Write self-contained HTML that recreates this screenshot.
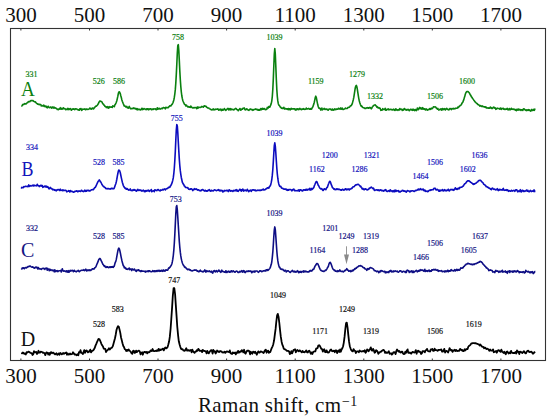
<!DOCTYPE html>
<html><head><meta charset="utf-8"><style>
html,body{margin:0;padding:0;background:#fff;}
body{width:550px;height:419px;overflow:hidden;}
svg{display:block;}
.ax{font-family:"Liberation Serif",serif;font-size:21px;fill:#111;}
.sm{font-family:"Liberation Serif",serif;font-size:8px;stroke-width:0.18px;}
.bg{font-family:"Liberation Serif",serif;font-size:20px;}
</style></head><body>
<svg width="550" height="419" viewBox="0 0 550 419">
<rect x="10.5" y="28.5" width="535" height="332" fill="none" stroke="#333333" stroke-width="1.1"/>
<line x1="20.9" y1="28.5" x2="20.9" y2="30.5" stroke="#333333" stroke-width="1"/>
<line x1="20.9" y1="360.5" x2="20.9" y2="358.5" stroke="#333333" stroke-width="1"/>
<line x1="89.5" y1="28.5" x2="89.5" y2="30.5" stroke="#333333" stroke-width="1"/>
<line x1="89.5" y1="360.5" x2="89.5" y2="358.5" stroke="#333333" stroke-width="1"/>
<line x1="158.0" y1="28.5" x2="158.0" y2="30.5" stroke="#333333" stroke-width="1"/>
<line x1="158.0" y1="360.5" x2="158.0" y2="358.5" stroke="#333333" stroke-width="1"/>
<line x1="226.6" y1="28.5" x2="226.6" y2="30.5" stroke="#333333" stroke-width="1"/>
<line x1="226.6" y1="360.5" x2="226.6" y2="358.5" stroke="#333333" stroke-width="1"/>
<line x1="295.2" y1="28.5" x2="295.2" y2="30.5" stroke="#333333" stroke-width="1"/>
<line x1="295.2" y1="360.5" x2="295.2" y2="358.5" stroke="#333333" stroke-width="1"/>
<line x1="363.8" y1="28.5" x2="363.8" y2="30.5" stroke="#333333" stroke-width="1"/>
<line x1="363.8" y1="360.5" x2="363.8" y2="358.5" stroke="#333333" stroke-width="1"/>
<line x1="432.3" y1="28.5" x2="432.3" y2="30.5" stroke="#333333" stroke-width="1"/>
<line x1="432.3" y1="360.5" x2="432.3" y2="358.5" stroke="#333333" stroke-width="1"/>
<line x1="500.9" y1="28.5" x2="500.9" y2="30.5" stroke="#333333" stroke-width="1"/>
<line x1="500.9" y1="360.5" x2="500.9" y2="358.5" stroke="#333333" stroke-width="1"/>
<text class="ax" x="20.9" y="22.4" text-anchor="middle">300</text>
<text class="ax" x="20.9" y="382.7" text-anchor="middle">300</text>
<text class="ax" x="89.5" y="22.4" text-anchor="middle">500</text>
<text class="ax" x="89.5" y="382.7" text-anchor="middle">500</text>
<text class="ax" x="158.0" y="22.4" text-anchor="middle">700</text>
<text class="ax" x="158.0" y="382.7" text-anchor="middle">700</text>
<text class="ax" x="226.6" y="22.4" text-anchor="middle">900</text>
<text class="ax" x="226.6" y="382.7" text-anchor="middle">900</text>
<text class="ax" x="295.2" y="22.4" text-anchor="middle">1100</text>
<text class="ax" x="295.2" y="382.7" text-anchor="middle">1100</text>
<text class="ax" x="363.8" y="22.4" text-anchor="middle">1300</text>
<text class="ax" x="363.8" y="382.7" text-anchor="middle">1300</text>
<text class="ax" x="432.3" y="22.4" text-anchor="middle">1500</text>
<text class="ax" x="432.3" y="382.7" text-anchor="middle">1500</text>
<text class="ax" x="500.9" y="22.4" text-anchor="middle">1700</text>
<text class="ax" x="500.9" y="382.7" text-anchor="middle">1700</text>
<text class="ax" x="198" y="412.2" letter-spacing="0.35">Raman shift, cm<tspan dx="0.5" dy="-6.2" font-size="14" letter-spacing="0.4">&#8722;1</tspan></text>
<polyline fill="none" stroke="#0a800f" stroke-width="1.60" stroke-linejoin="round" points="21.3,105.87 21.8,106.01 22.3,105.27 22.8,104.60 23.3,104.23 23.8,104.55 24.3,104.03 24.8,103.54 25.3,103.97 25.8,103.86 26.3,103.72 26.8,102.90 27.3,102.77 27.8,102.48 28.3,101.66 28.8,101.82 29.3,101.56 29.8,101.75 30.3,101.02 30.8,100.57 31.3,100.73 31.8,100.52 32.3,100.67 32.8,100.55 33.3,100.84 33.8,101.38 34.3,101.69 34.8,101.86 35.3,101.80 35.8,102.56 36.3,102.92 36.8,103.46 37.3,103.64 37.8,104.24 38.3,104.12 38.8,104.35 39.3,104.78 39.8,104.23 40.3,104.50 40.8,104.69 41.3,106.01 41.8,105.48 42.3,105.76 42.8,106.00 43.3,105.72 43.8,105.15 44.3,106.39 44.8,106.18 45.3,106.72 45.8,106.00 46.3,106.32 46.8,107.41 47.3,107.83 47.8,106.59 48.3,106.32 48.8,107.04 49.3,107.64 49.8,107.49 50.3,107.51 50.8,106.90 51.3,107.59 51.8,108.13 52.3,107.50 52.8,106.89 53.3,107.22 53.8,108.19 54.3,107.24 54.8,107.88 55.3,107.76 55.8,108.21 56.3,108.38 56.8,108.61 57.3,109.50 57.8,109.23 58.3,109.64 58.8,109.07 59.3,108.75 59.8,109.17 60.3,107.64 60.8,108.66 61.3,109.13 61.8,108.44 62.3,109.14 62.8,108.84 63.3,107.75 63.8,108.66 64.3,108.57 64.8,108.72 65.3,108.98 65.8,109.76 66.3,109.36 66.8,109.16 67.3,109.37 67.8,108.31 68.3,109.61 68.8,108.83 69.3,109.32 69.8,108.73 70.3,108.62 70.8,108.95 71.3,110.21 71.8,109.90 72.3,109.10 72.8,109.11 73.3,108.72 73.8,109.19 74.3,109.07 74.8,109.67 75.3,108.78 75.8,109.05 76.3,108.92 76.8,108.93 77.3,109.68 77.8,109.56 78.3,109.73 78.8,110.09 79.3,110.15 79.8,108.85 80.3,109.50 80.8,108.56 81.3,109.12 81.8,110.33 82.3,109.48 82.8,109.10 83.3,109.32 83.8,109.28 84.3,109.24 84.8,108.80 85.3,109.60 85.8,109.69 86.3,109.07 86.8,109.15 87.3,109.34 87.8,109.52 88.3,109.19 88.8,109.21 89.3,108.71 89.8,108.14 90.3,108.26 90.8,109.01 91.3,109.10 91.8,108.61 92.3,108.08 92.8,108.31 93.3,108.92 93.8,108.77 94.3,107.60 94.8,107.41 95.3,106.56 95.8,106.17 96.3,106.23 96.8,105.69 97.3,105.26 97.8,104.57 98.3,103.57 98.8,102.73 99.3,101.65 99.8,100.93 100.3,100.93 100.8,101.45 101.3,101.57 101.8,101.82 102.3,102.71 102.8,103.81 103.3,103.92 103.8,104.95 104.3,105.16 104.8,106.20 105.3,106.58 105.8,106.64 106.3,107.56 106.8,106.87 107.3,106.60 107.8,107.81 108.3,106.92 108.8,108.06 109.3,107.40 109.8,106.68 110.3,107.03 110.8,107.18 111.3,107.17 111.8,106.93 112.3,107.36 112.8,105.88 113.3,106.10 113.8,106.17 114.3,106.68 114.8,104.94 115.3,104.48 115.8,103.44 116.3,102.22 116.8,100.76 117.3,98.65 117.8,96.39 118.3,93.75 118.8,92.09 119.3,91.82 119.8,92.49 120.3,93.72 120.8,95.76 121.3,97.47 121.8,99.69 122.3,101.21 122.8,102.52 123.3,103.78 123.8,104.94 124.3,106.07 124.8,106.08 125.3,106.27 125.8,106.99 126.3,106.74 126.8,106.44 127.3,107.64 127.8,107.51 128.3,108.19 128.8,107.47 129.3,106.43 129.8,107.77 130.3,108.15 130.8,108.89 131.3,108.62 131.8,108.46 132.3,108.63 132.8,108.27 133.3,108.44 133.8,107.87 134.3,108.68 134.8,108.32 135.3,108.40 135.8,109.08 136.3,109.38 136.8,108.51 137.3,109.82 137.8,108.95 138.3,109.38 138.8,109.65 139.3,109.32 139.8,109.22 140.3,110.04 140.8,109.79 141.3,109.46 141.8,108.27 142.3,108.52 142.8,109.61 143.3,109.36 143.8,108.66 144.3,108.67 144.8,108.87 145.3,109.40 145.8,109.36 146.3,109.62 146.8,108.77 147.3,109.44 147.8,108.90 148.3,108.80 148.8,109.83 149.3,109.23 149.8,108.90 150.3,108.82 150.8,108.70 151.3,109.63 151.8,109.76 152.3,109.38 152.8,109.01 153.3,109.35 153.8,108.87 154.3,108.97 154.8,108.98 155.3,108.80 155.8,109.50 156.3,109.72 156.8,109.48 157.3,107.80 157.8,109.22 158.3,109.09 158.8,108.35 159.3,108.38 159.8,108.96 160.3,109.08 160.8,108.89 161.3,108.46 161.8,108.27 162.3,108.59 162.8,108.19 163.3,107.65 163.8,107.62 164.3,107.82 164.8,108.02 165.3,108.88 165.8,107.35 166.3,107.67 166.8,107.50 167.3,107.48 167.8,107.81 168.3,107.69 168.8,106.89 169.3,106.35 169.8,105.73 170.3,105.82 170.8,106.01 171.3,105.13 171.8,104.71 172.3,104.03 172.8,103.00 173.3,101.84 173.8,100.00 174.3,97.49 174.8,94.07 175.3,89.66 175.8,83.02 176.3,74.41 176.8,64.18 177.3,53.14 177.8,45.64 178.3,44.67 178.8,50.54 179.3,60.34 179.8,70.86 180.3,79.45 180.8,86.47 181.3,91.85 181.8,95.73 182.3,98.43 182.8,100.44 183.3,101.75 183.8,102.81 184.3,104.00 184.8,104.59 185.3,104.74 185.8,105.83 186.3,105.05 186.8,105.78 187.3,106.46 187.8,106.87 188.3,106.74 188.8,106.61 189.3,107.12 189.8,107.01 190.3,107.33 190.8,106.01 191.3,107.18 191.8,107.09 192.3,107.82 192.8,107.99 193.3,108.02 193.8,107.53 194.3,107.84 194.8,107.61 195.3,107.81 195.8,107.73 196.3,107.36 196.8,108.65 197.3,108.40 197.8,106.91 198.3,107.97 198.8,107.20 199.3,107.43 199.8,107.33 200.3,107.21 200.8,107.45 201.3,107.13 201.8,106.41 202.3,106.72 202.8,106.82 203.3,107.21 203.8,106.31 204.3,105.70 204.8,105.92 205.3,106.49 205.8,106.23 206.3,106.45 206.8,107.33 207.3,107.61 207.8,108.02 208.3,108.00 208.8,108.11 209.3,108.58 209.8,108.93 210.3,109.03 210.8,109.52 211.3,109.77 211.8,109.86 212.3,109.87 212.8,109.22 213.3,108.95 213.8,109.90 214.3,109.76 214.8,109.73 215.3,109.10 215.8,109.42 216.3,109.33 216.8,109.16 217.3,109.25 217.8,108.83 218.3,109.52 218.8,110.26 219.3,109.44 219.8,109.60 220.3,109.09 220.8,109.82 221.3,110.64 221.8,109.21 222.3,109.31 222.8,110.27 223.3,109.93 223.8,109.65 224.3,108.50 224.8,109.17 225.3,109.94 225.8,110.33 226.3,109.97 226.8,109.23 227.3,109.00 227.8,108.40 228.3,108.61 228.8,109.82 229.3,109.45 229.8,108.65 230.3,109.83 230.8,108.63 231.3,109.73 231.8,109.28 232.3,109.40 232.8,109.65 233.3,109.46 233.8,109.92 234.3,109.39 234.8,109.04 235.3,108.82 235.8,108.36 236.3,108.64 236.8,109.58 237.3,109.71 237.8,109.97 238.3,110.72 238.8,109.86 239.3,109.49 239.8,108.53 240.3,108.85 240.8,110.23 241.3,109.70 241.8,109.15 242.3,109.30 242.8,108.24 243.3,108.51 243.8,108.41 244.3,107.94 244.8,109.33 245.3,109.82 245.8,109.28 246.3,109.41 246.8,108.81 247.3,109.40 247.8,109.76 248.3,110.21 248.8,110.34 249.3,109.81 249.8,109.38 250.3,108.96 250.8,109.01 251.3,109.67 251.8,109.82 252.3,109.55 252.8,110.33 253.3,110.03 253.8,109.59 254.3,109.42 254.8,109.54 255.3,109.06 255.8,108.92 256.3,109.59 256.8,109.29 257.3,109.32 257.8,110.11 258.3,109.57 258.8,110.14 259.3,109.65 259.8,110.22 260.3,109.86 260.8,108.60 261.3,109.78 261.8,109.40 262.3,108.32 262.8,109.08 263.3,109.30 263.8,108.55 264.3,108.65 264.8,109.20 265.3,109.66 265.8,109.53 266.3,109.40 266.8,109.22 267.3,107.43 267.8,107.61 268.3,107.95 268.8,106.58 269.3,107.28 269.8,107.15 270.3,105.91 270.8,104.92 271.3,103.32 271.8,100.86 272.3,96.48 272.8,89.40 273.3,78.99 273.8,66.34 274.3,53.96 274.8,48.63 275.3,54.07 275.8,66.08 276.3,78.84 276.8,89.33 277.3,96.37 277.8,100.92 278.3,103.65 278.8,105.07 279.3,105.47 279.8,106.12 280.3,107.29 280.8,107.19 281.3,108.22 281.8,108.18 282.3,108.51 282.8,108.11 283.3,108.44 283.8,107.32 284.3,108.36 284.8,109.13 285.3,108.59 285.8,108.49 286.3,108.93 286.8,109.13 287.3,108.76 287.8,109.41 288.3,108.48 288.8,109.58 289.3,108.70 289.8,108.70 290.3,109.86 290.8,108.98 291.3,108.38 291.8,109.17 292.3,108.90 292.8,108.69 293.3,108.88 293.8,108.92 294.3,108.80 294.8,108.75 295.3,110.08 295.8,109.27 296.3,109.81 296.8,108.82 297.3,109.51 297.8,108.85 298.3,109.03 298.8,109.68 299.3,109.23 299.8,108.36 300.3,108.89 300.8,109.27 301.3,109.68 301.8,108.98 302.3,109.13 302.8,109.39 303.3,108.57 303.8,109.12 304.3,108.94 304.8,109.47 305.3,109.34 305.8,109.23 306.3,108.08 306.8,108.92 307.3,109.05 307.8,108.70 308.3,108.80 308.8,108.44 309.3,108.98 309.8,109.31 310.3,109.23 310.8,108.56 311.3,109.25 311.8,108.82 312.3,107.48 312.8,106.90 313.3,105.38 313.8,104.11 314.3,102.21 314.8,99.85 315.3,97.41 315.8,96.20 316.3,97.44 316.8,100.14 317.3,102.62 317.8,105.07 318.3,106.69 318.8,108.06 319.3,108.42 319.8,108.17 320.3,108.78 320.8,110.07 321.3,108.99 321.8,108.07 322.3,109.90 322.8,109.61 323.3,108.94 323.8,108.86 324.3,108.43 324.8,109.45 325.3,109.48 325.8,109.04 326.3,109.06 326.8,109.09 327.3,109.85 327.8,109.42 328.3,110.06 328.8,109.14 329.3,108.98 329.8,109.08 330.3,109.07 330.8,109.28 331.3,109.90 331.8,110.12 332.3,108.98 332.8,109.87 333.3,109.55 333.8,110.13 334.3,109.42 334.8,108.84 335.3,109.55 335.8,109.64 336.3,109.05 336.8,109.12 337.3,109.21 337.8,109.28 338.3,108.25 338.8,108.22 339.3,108.88 339.8,109.10 340.3,108.70 340.8,107.95 341.3,109.29 341.8,108.82 342.3,108.21 342.8,109.36 343.3,109.41 343.8,109.25 344.3,109.09 344.8,108.87 345.3,108.04 345.8,108.26 346.3,108.45 346.8,108.52 347.3,108.37 347.8,107.55 348.3,107.42 348.8,107.41 349.3,107.28 349.8,106.74 350.3,105.95 350.8,105.64 351.3,105.59 351.8,104.72 352.3,103.61 352.8,101.62 353.3,99.68 353.8,97.39 354.3,94.02 354.8,90.82 355.3,87.73 355.8,86.01 356.3,85.39 356.8,86.51 357.3,89.20 357.8,92.39 358.3,95.71 358.8,98.62 359.3,100.96 359.8,102.74 360.3,104.29 360.8,105.47 361.3,106.44 361.8,105.99 362.3,106.98 362.8,107.41 363.3,107.68 363.8,107.72 364.3,107.92 364.8,108.34 365.3,108.38 365.8,108.42 366.3,107.93 366.8,107.77 367.3,108.03 367.8,107.64 368.3,108.13 368.8,108.12 369.3,107.61 369.8,107.38 370.3,107.93 370.8,107.89 371.3,108.85 371.8,108.25 372.3,107.03 372.8,106.51 373.3,105.84 373.8,105.36 374.3,105.09 374.8,104.98 375.3,104.89 375.8,105.59 376.3,106.16 376.8,107.22 377.3,106.71 377.8,107.70 378.3,107.88 378.8,107.55 379.3,108.26 379.8,107.97 380.3,108.72 380.8,110.36 381.3,110.08 381.8,110.23 382.3,110.04 382.8,108.64 383.3,109.31 383.8,109.45 384.3,109.59 384.8,108.91 385.3,108.27 385.8,110.23 386.3,110.30 386.8,109.75 387.3,109.25 387.8,109.51 388.3,108.88 388.8,109.83 389.3,109.72 389.8,109.47 390.3,109.30 390.8,109.46 391.3,109.62 391.8,109.38 392.3,110.02 392.8,109.81 393.3,109.57 393.8,109.15 394.3,110.12 394.8,110.44 395.3,110.14 395.8,108.78 396.3,109.23 396.8,110.11 397.3,109.80 397.8,110.32 398.3,109.61 398.8,110.02 399.3,110.05 399.8,108.50 400.3,109.17 400.8,109.52 401.3,109.35 401.8,109.17 402.3,110.41 402.8,109.85 403.3,110.10 403.8,109.13 404.3,108.48 404.8,109.21 405.3,109.87 405.8,109.41 406.3,109.90 406.8,110.20 407.3,109.60 407.8,109.64 408.3,109.34 408.8,110.18 409.3,110.76 409.8,110.19 410.3,109.51 410.8,109.28 411.3,109.46 411.8,110.10 412.3,109.41 412.8,110.32 413.3,109.22 413.8,109.47 414.3,110.26 414.8,110.62 415.3,109.53 415.8,109.77 416.3,110.67 416.8,110.08 417.3,108.14 417.8,108.73 418.3,109.78 418.8,108.22 419.3,108.57 419.8,107.41 420.3,108.68 420.8,108.11 421.3,108.74 421.8,109.16 422.3,107.65 422.8,108.00 423.3,109.13 423.8,108.55 424.3,109.14 424.8,108.92 425.3,109.98 425.8,109.36 426.3,108.93 426.8,109.66 427.3,110.14 427.8,109.51 428.3,109.53 428.8,109.66 429.3,109.15 429.8,108.63 430.3,109.30 430.8,108.94 431.3,108.17 431.8,108.81 432.3,108.51 432.8,107.89 433.3,107.04 433.8,106.76 434.3,106.91 434.8,107.02 435.3,106.85 435.8,107.12 436.3,108.06 436.8,108.50 437.3,109.09 437.8,108.44 438.3,109.34 438.8,110.10 439.3,109.87 439.8,109.41 440.3,109.71 440.8,108.75 441.3,108.90 441.8,110.24 442.3,108.74 442.8,108.52 443.3,109.55 443.8,109.07 444.3,108.93 444.8,108.66 445.3,109.96 445.8,109.17 446.3,109.04 446.8,108.32 447.3,109.38 447.8,109.30 448.3,109.43 448.8,109.98 449.3,109.40 449.8,108.56 450.3,108.45 450.8,108.95 451.3,109.62 451.8,108.54 452.3,108.63 452.8,108.72 453.3,109.03 453.8,108.34 454.3,108.61 454.8,108.85 455.3,108.42 455.8,108.17 456.3,108.32 456.8,108.20 457.3,108.27 457.8,107.20 458.3,107.60 458.8,106.99 459.3,106.21 459.8,105.96 460.3,105.37 460.8,105.11 461.3,104.88 461.8,103.52 462.3,102.76 462.8,102.13 463.3,100.87 463.8,99.65 464.3,97.85 464.8,96.32 465.3,94.30 465.8,92.94 466.3,92.07 466.8,91.58 467.3,91.63 467.8,91.59 468.3,91.77 468.8,92.34 469.3,92.77 469.8,93.97 470.3,94.88 470.8,95.40 471.3,96.60 471.8,97.06 472.3,98.06 472.8,98.70 473.3,99.25 473.8,100.25 474.3,100.74 474.8,101.66 475.3,101.98 475.8,102.57 476.3,102.99 476.8,103.51 477.3,103.78 477.8,104.43 478.3,104.81 478.8,104.98 479.3,105.17 479.8,106.04 480.3,105.64 480.8,105.74 481.3,106.36 481.8,106.38 482.3,105.92 482.8,106.47 483.3,106.66 483.8,106.54 484.3,107.06 484.8,106.77 485.3,107.10 485.8,106.93 486.3,108.03 486.8,107.64 487.3,107.84 487.8,107.93 488.3,108.17 488.8,107.92 489.3,108.28 489.8,108.17 490.3,107.03 490.8,108.02 491.3,107.66 491.8,108.53 492.3,108.50 492.8,108.19 493.3,107.19 493.8,107.15 494.3,107.67 494.8,108.18 495.3,107.84 495.8,109.32 496.3,109.03 496.8,108.63 497.3,108.17 497.8,108.40 498.3,108.55 498.8,108.49 499.3,108.66 499.8,109.15 500.3,108.05 500.8,108.72 501.3,109.40 501.8,108.34 502.3,108.63 502.8,108.71 503.3,108.34 503.8,109.28 504.3,108.94 504.8,109.52 505.3,109.37 505.8,108.96 506.3,109.18 506.8,108.95 507.3,108.27 507.8,109.64 508.3,109.52 508.8,109.80 509.3,108.46 509.8,109.52 510.3,109.79 510.8,109.36 511.3,108.24 511.8,109.11 512.3,109.02 512.8,109.19 513.3,109.39 513.8,108.97 514.3,109.26 514.8,109.45 515.3,110.21 515.8,109.63 516.3,110.69 516.8,109.25 517.3,109.35 517.8,110.19 518.3,108.97 518.8,109.74 519.3,109.93 519.8,109.42 520.3,109.49 520.8,110.46 521.3,109.70 521.8,109.83 522.3,110.02 522.8,110.45 523.3,108.92 523.8,108.82 524.3,108.98 524.8,109.55 525.3,110.15 525.8,110.39 526.3,109.87 526.8,110.66 527.3,110.09 527.8,110.30 528.3,109.67 528.8,110.31 529.3,109.74 529.8,110.50 530.3,110.60 530.8,111.09 531.3,110.06 531.8,109.40 532.3,110.33 532.8,110.33 533.3,109.85 533.8,109.33 534.3,110.32 534.8,109.20 535.3,109.61"/>
<polyline fill="none" stroke="#0c0cbf" stroke-width="1.60" stroke-linejoin="round" points="21.3,188.63 21.8,187.40 22.3,187.50 22.8,187.45 23.3,187.70 23.8,186.64 24.3,186.78 24.8,186.67 25.3,186.40 25.8,186.39 26.3,186.49 26.8,186.54 27.3,186.20 27.8,186.63 28.3,186.25 28.8,184.88 29.3,186.41 29.8,186.11 30.3,185.69 30.8,186.00 31.3,186.00 31.8,185.85 32.3,185.39 32.8,185.67 33.3,185.02 33.8,186.04 34.3,185.22 34.8,185.38 35.3,185.59 35.8,185.72 36.3,185.59 36.8,185.89 37.3,184.28 37.8,185.35 38.3,185.75 38.8,185.69 39.3,186.60 39.8,185.78 40.3,185.97 40.8,185.26 41.3,186.16 41.8,185.61 42.3,185.48 42.8,187.40 43.3,187.14 43.8,186.67 44.3,186.73 44.8,186.05 45.3,186.14 45.8,187.03 46.3,186.09 46.8,187.10 47.3,186.55 47.8,187.40 48.3,187.18 48.8,188.65 49.3,188.83 49.8,188.14 50.3,187.43 50.8,188.01 51.3,188.70 51.8,188.49 52.3,189.20 52.8,189.89 53.3,189.59 53.8,189.40 54.3,190.11 54.8,189.82 55.3,190.36 55.8,189.98 56.3,190.88 56.8,190.18 57.3,189.54 57.8,190.04 58.3,189.83 58.8,189.59 59.3,189.99 59.8,190.57 60.3,189.19 60.8,189.94 61.3,190.19 61.8,190.21 62.3,190.73 62.8,189.79 63.3,190.57 63.8,190.40 64.3,190.50 64.8,190.41 65.3,190.34 65.8,190.26 66.3,190.76 66.8,191.80 67.3,191.51 67.8,191.30 68.3,191.16 68.8,190.61 69.3,191.07 69.8,192.00 70.3,190.47 70.8,191.15 71.3,191.54 71.8,191.20 72.3,191.39 72.8,191.77 73.3,192.28 73.8,191.92 74.3,191.99 74.8,191.35 75.3,191.43 75.8,191.16 76.3,191.13 76.8,190.76 77.3,191.25 77.8,191.79 78.3,191.06 78.8,191.07 79.3,191.31 79.8,191.04 80.3,191.44 80.8,191.20 81.3,190.38 81.8,190.27 82.3,191.18 82.8,191.35 83.3,191.57 83.8,191.18 84.3,191.04 84.8,190.12 85.3,191.38 85.8,190.57 86.3,191.25 86.8,190.38 87.3,190.32 87.8,190.76 88.3,190.53 88.8,190.29 89.3,190.99 89.8,191.01 90.3,190.77 90.8,190.29 91.3,189.86 91.8,189.82 92.3,189.66 92.8,189.64 93.3,189.74 93.8,189.03 94.3,188.20 94.8,187.62 95.3,187.53 95.8,186.43 96.3,185.34 96.8,184.22 97.3,183.11 97.8,181.94 98.3,181.17 98.8,180.59 99.3,179.90 99.8,180.48 100.3,181.70 100.8,182.00 101.3,182.99 101.8,184.18 102.3,184.92 102.8,186.05 103.3,186.07 103.8,186.43 104.3,187.27 104.8,187.52 105.3,187.60 105.8,188.48 106.3,188.69 106.8,188.66 107.3,188.53 107.8,188.84 108.3,188.78 108.8,188.47 109.3,188.97 109.8,189.04 110.3,188.87 110.8,189.08 111.3,188.27 111.8,188.42 112.3,188.25 112.8,188.86 113.3,188.46 113.8,188.65 114.3,188.01 114.8,186.45 115.3,184.97 115.8,183.77 116.3,181.72 116.8,179.25 117.3,176.35 117.8,173.76 118.3,171.39 118.8,170.09 119.3,170.17 119.8,171.11 120.3,172.74 120.8,175.27 121.3,177.66 121.8,179.92 122.3,182.17 122.8,183.78 123.3,185.54 123.8,186.41 124.3,187.36 124.8,187.99 125.3,188.58 125.8,188.09 126.3,189.15 126.8,189.17 127.3,188.72 127.8,189.45 128.3,189.61 128.8,190.10 129.3,190.03 129.8,189.85 130.3,188.90 130.8,190.31 131.3,190.67 131.8,190.36 132.3,190.18 132.8,190.57 133.3,189.70 133.8,190.28 134.3,190.19 134.8,189.66 135.3,190.28 135.8,190.50 136.3,191.23 136.8,191.08 137.3,189.77 137.8,189.33 138.3,190.27 138.8,190.49 139.3,190.16 139.8,189.85 140.3,190.45 140.8,190.16 141.3,190.30 141.8,191.16 142.3,191.06 142.8,190.49 143.3,190.18 143.8,190.60 144.3,191.68 144.8,190.79 145.3,191.63 145.8,190.64 146.3,190.60 146.8,191.12 147.3,190.48 147.8,190.70 148.3,190.08 148.8,190.90 149.3,191.38 149.8,190.52 150.3,190.69 150.8,190.48 151.3,189.51 151.8,191.71 152.3,191.24 152.8,191.05 153.3,190.83 153.8,190.64 154.3,191.67 154.8,189.84 155.3,190.04 155.8,190.14 156.3,190.20 156.8,190.63 157.3,190.01 157.8,189.51 158.3,189.49 158.8,190.24 159.3,190.63 159.8,190.57 160.3,190.88 160.8,189.91 161.3,190.32 161.8,190.29 162.3,189.79 162.8,189.35 163.3,189.96 163.8,189.35 164.3,189.26 164.8,188.90 165.3,189.91 165.8,189.29 166.3,188.75 166.8,188.64 167.3,188.48 167.8,188.38 168.3,187.46 168.8,187.19 169.3,187.47 169.8,187.34 170.3,186.18 170.8,185.67 171.3,184.74 171.8,183.37 172.3,182.17 172.8,180.14 173.3,177.66 173.8,173.70 174.3,168.29 174.8,160.75 175.3,151.50 175.8,140.16 176.3,129.95 176.8,124.60 177.3,125.93 177.8,132.79 178.3,141.98 178.8,150.89 179.3,159.09 179.8,165.59 180.3,170.65 180.8,174.38 181.3,177.49 181.8,179.74 182.3,182.06 182.8,183.22 183.3,184.11 183.8,184.65 184.3,186.01 184.8,185.98 185.3,187.06 185.8,187.56 186.3,187.54 186.8,187.48 187.3,187.89 187.8,187.67 188.3,188.52 188.8,189.32 189.3,189.26 189.8,189.39 190.3,188.78 190.8,189.14 191.3,188.75 191.8,188.95 192.3,189.62 192.8,190.64 193.3,189.80 193.8,189.56 194.3,188.71 194.8,189.51 195.3,189.28 195.8,188.96 196.3,188.90 196.8,189.70 197.3,189.67 197.8,190.16 198.3,189.87 198.8,189.90 199.3,190.68 199.8,190.56 200.3,190.49 200.8,190.88 201.3,190.41 201.8,189.73 202.3,189.75 202.8,189.47 203.3,190.40 203.8,190.32 204.3,190.74 204.8,191.05 205.3,190.28 205.8,190.58 206.3,191.26 206.8,190.82 207.3,191.10 207.8,190.65 208.3,190.14 208.8,190.41 209.3,189.67 209.8,190.78 210.3,190.49 210.8,191.28 211.3,190.22 211.8,190.58 212.3,190.86 212.8,190.62 213.3,190.85 213.8,190.34 214.3,190.04 214.8,189.83 215.3,190.21 215.8,190.19 216.3,190.70 216.8,190.52 217.3,190.29 217.8,190.22 218.3,189.61 218.8,190.24 219.3,190.84 219.8,190.04 220.3,190.36 220.8,190.98 221.3,190.39 221.8,190.67 222.3,190.46 222.8,191.86 223.3,191.68 223.8,191.44 224.3,190.45 224.8,190.89 225.3,190.64 225.8,190.80 226.3,190.39 226.8,190.64 227.3,190.26 227.8,190.68 228.3,191.57 228.8,190.14 229.3,189.77 229.8,190.71 230.3,191.10 230.8,190.53 231.3,190.88 231.8,190.92 232.3,190.96 232.8,191.40 233.3,190.46 233.8,190.88 234.3,190.81 234.8,190.28 235.3,190.78 235.8,190.00 236.3,189.67 236.8,190.97 237.3,190.16 237.8,191.32 238.3,191.34 238.8,190.44 239.3,190.04 239.8,189.29 240.3,190.23 240.8,189.69 241.3,191.14 241.8,189.86 242.3,190.33 242.8,189.10 243.3,189.96 243.8,191.13 244.3,190.42 244.8,189.99 245.3,190.11 245.8,190.58 246.3,190.95 246.8,190.42 247.3,189.33 247.8,190.30 248.3,190.94 248.8,191.70 249.3,190.76 249.8,190.48 250.3,190.10 250.8,190.66 251.3,191.34 251.8,190.03 252.3,190.22 252.8,189.77 253.3,189.80 253.8,190.09 254.3,190.50 254.8,189.89 255.3,189.98 255.8,190.88 256.3,190.64 256.8,190.61 257.3,190.46 257.8,190.10 258.3,190.31 258.8,190.41 259.3,190.12 259.8,190.54 260.3,190.12 260.8,190.40 261.3,190.03 261.8,190.22 262.3,189.56 262.8,189.38 263.3,189.04 263.8,190.03 264.3,189.89 264.8,189.56 265.3,189.60 265.8,188.84 266.3,188.95 266.8,188.60 267.3,187.74 267.8,188.03 268.3,187.65 268.8,188.10 269.3,187.02 269.8,186.23 270.3,185.83 270.8,184.38 271.3,182.17 271.8,179.49 272.3,175.19 272.8,169.72 273.3,161.91 273.8,153.39 274.3,145.65 274.8,142.78 275.3,146.07 275.8,152.70 276.3,160.50 276.8,167.98 277.3,173.82 277.8,178.22 278.3,181.74 278.8,183.91 279.3,185.39 279.8,186.51 280.3,186.44 280.8,186.36 281.3,187.68 281.8,188.14 282.3,188.23 282.8,188.35 283.3,188.89 283.8,189.08 284.3,189.06 284.8,189.25 285.3,189.05 285.8,188.97 286.3,189.88 286.8,189.36 287.3,190.32 287.8,189.99 288.3,189.58 288.8,190.08 289.3,189.45 289.8,189.43 290.3,189.43 290.8,189.63 291.3,190.07 291.8,190.93 292.3,190.40 292.8,189.47 293.3,189.47 293.8,189.08 294.3,190.33 294.8,190.80 295.3,190.60 295.8,190.60 296.3,190.73 296.8,190.72 297.3,190.83 297.8,190.64 298.3,189.96 298.8,190.79 299.3,191.22 299.8,189.72 300.3,190.04 300.8,189.73 301.3,190.43 301.8,190.20 302.3,190.95 302.8,190.97 303.3,190.08 303.8,189.83 304.3,189.73 304.8,190.27 305.3,189.61 305.8,190.07 306.3,189.27 306.8,190.24 307.3,190.21 307.8,189.26 308.3,189.20 308.8,189.67 309.3,189.81 309.8,188.20 310.3,189.27 310.8,190.21 311.3,189.29 311.8,188.46 312.3,189.32 312.8,188.80 313.3,188.12 313.8,187.52 314.3,185.93 314.8,184.77 315.3,183.43 315.8,182.20 316.3,181.58 316.8,181.57 317.3,182.84 317.8,184.07 318.3,185.49 318.8,185.91 319.3,187.11 319.8,187.93 320.3,188.54 320.8,189.02 321.3,188.67 321.8,188.58 322.3,189.54 322.8,190.43 323.3,190.52 323.8,189.34 324.3,188.77 324.8,189.11 325.3,189.24 325.8,189.66 326.3,188.57 326.8,187.61 327.3,187.50 327.8,185.97 328.3,184.47 328.8,183.27 329.3,181.93 329.8,181.22 330.3,181.85 330.8,183.16 331.3,184.68 331.8,185.87 332.3,187.37 332.8,187.89 333.3,188.20 333.8,189.27 334.3,188.74 334.8,189.46 335.3,189.68 335.8,189.29 336.3,189.49 336.8,188.74 337.3,189.43 337.8,189.03 338.3,188.97 338.8,189.58 339.3,189.22 339.8,189.54 340.3,189.80 340.8,190.16 341.3,189.91 341.8,190.15 342.3,189.32 342.8,189.28 343.3,189.83 343.8,190.22 344.3,189.90 344.8,189.30 345.3,188.89 345.8,188.86 346.3,189.88 346.8,189.06 347.3,189.13 347.8,189.60 348.3,189.55 348.8,188.89 349.3,189.95 349.8,189.28 350.3,188.96 350.8,189.03 351.3,188.37 351.8,188.43 352.3,187.88 352.8,187.17 353.3,186.71 353.8,186.78 354.3,186.35 354.8,185.80 355.3,185.26 355.8,184.90 356.3,184.84 356.8,184.75 357.3,184.40 357.8,184.53 358.3,184.31 358.8,184.68 359.3,185.24 359.8,185.66 360.3,186.61 360.8,186.26 361.3,187.36 361.8,188.07 362.3,189.07 362.8,188.45 363.3,188.85 363.8,189.63 364.3,189.69 364.8,188.92 365.3,189.08 365.8,188.83 366.3,189.32 366.8,189.71 367.3,190.00 367.8,189.55 368.3,189.38 368.8,189.19 369.3,188.10 369.8,188.14 370.3,188.07 370.8,187.46 371.3,187.06 371.8,187.55 372.3,187.98 372.8,188.60 373.3,188.06 373.8,188.77 374.3,190.32 374.8,190.55 375.3,190.02 375.8,189.95 376.3,190.07 376.8,189.81 377.3,190.05 377.8,190.38 378.3,189.89 378.8,190.34 379.3,190.69 379.8,189.97 380.3,190.21 380.8,189.78 381.3,190.46 381.8,190.77 382.3,190.43 382.8,190.65 383.3,190.98 383.8,191.12 384.3,190.12 384.8,190.39 385.3,189.96 385.8,189.60 386.3,191.05 386.8,191.30 387.3,191.54 387.8,191.37 388.3,190.66 388.8,190.88 389.3,190.60 389.8,191.49 390.3,189.84 390.8,190.79 391.3,190.67 391.8,191.21 392.3,191.64 392.8,190.77 393.3,191.57 393.8,191.70 394.3,190.30 394.8,191.72 395.3,190.62 395.8,190.15 396.3,191.33 396.8,190.77 397.3,191.05 397.8,191.04 398.3,190.51 398.8,191.74 399.3,192.03 399.8,191.29 400.3,191.89 400.8,191.27 401.3,191.20 401.8,190.94 402.3,190.35 402.8,190.72 403.3,190.53 403.8,191.15 404.3,191.19 404.8,190.78 405.3,191.64 405.8,191.41 406.3,192.04 406.8,191.08 407.3,190.80 407.8,190.61 408.3,191.06 408.8,190.98 409.3,191.03 409.8,191.93 410.3,191.65 410.8,190.79 411.3,191.13 411.8,190.91 412.3,190.78 412.8,190.81 413.3,190.95 413.8,191.25 414.3,191.48 414.8,190.99 415.3,190.39 415.8,190.61 416.3,190.52 416.8,190.32 417.3,189.69 417.8,189.88 418.3,189.00 418.8,189.92 419.3,189.76 419.8,189.49 420.3,188.70 420.8,189.04 421.3,189.76 421.8,189.48 422.3,189.20 422.8,189.78 423.3,189.09 423.8,190.53 424.3,190.81 424.8,189.97 425.3,190.84 425.8,191.36 426.3,191.20 426.8,191.16 427.3,191.60 427.8,191.04 428.3,191.44 428.8,190.75 429.3,190.25 429.8,190.28 430.3,189.86 430.8,190.30 431.3,189.75 431.8,189.84 432.3,189.62 432.8,189.82 433.3,189.65 433.8,188.49 434.3,188.29 434.8,188.38 435.3,188.41 435.8,189.64 436.3,190.01 436.8,189.67 437.3,189.26 437.8,189.69 438.3,190.27 438.8,191.24 439.3,190.14 439.8,191.21 440.3,190.17 440.8,190.74 441.3,190.23 441.8,190.43 442.3,189.55 442.8,190.81 443.3,190.90 443.8,190.30 444.3,189.62 444.8,190.51 445.3,190.79 445.8,190.07 446.3,190.83 446.8,190.73 447.3,190.11 447.8,190.09 448.3,189.25 448.8,190.56 449.3,191.01 449.8,190.38 450.3,189.63 450.8,189.48 451.3,189.81 451.8,189.54 452.3,189.95 452.8,189.43 453.3,190.06 453.8,190.32 454.3,189.39 454.8,188.98 455.3,187.83 455.8,188.92 456.3,189.34 456.8,188.67 457.3,189.38 457.8,188.68 458.3,188.14 458.8,188.85 459.3,188.76 459.8,187.43 460.3,187.54 460.8,187.20 461.3,187.28 461.8,187.19 462.3,186.60 462.8,186.31 463.3,186.08 463.8,185.22 464.3,184.32 464.8,183.74 465.3,183.48 465.8,183.05 466.3,182.19 466.8,181.66 467.3,181.07 467.8,180.78 468.3,180.92 468.8,180.80 469.3,181.06 469.8,181.41 470.3,181.97 470.8,182.32 471.3,182.68 471.8,183.03 472.3,183.33 472.8,183.89 473.3,184.40 473.8,183.77 474.3,184.12 474.8,183.72 475.3,183.49 475.8,183.28 476.3,182.90 476.8,182.47 477.3,181.96 477.8,181.84 478.3,180.97 478.8,180.59 479.3,180.35 479.8,180.39 480.3,180.26 480.8,180.63 481.3,181.07 481.8,181.83 482.3,182.26 482.8,182.70 483.3,183.32 483.8,184.31 484.3,184.58 484.8,184.88 485.3,185.37 485.8,185.91 486.3,186.79 486.8,186.61 487.3,186.92 487.8,187.47 488.3,187.40 488.8,188.19 489.3,188.10 489.8,188.54 490.3,188.78 490.8,189.35 491.3,189.69 491.8,188.60 492.3,188.15 492.8,188.23 493.3,189.08 493.8,189.35 494.3,189.15 494.8,189.11 495.3,189.90 495.8,189.82 496.3,189.46 496.8,189.61 497.3,188.66 497.8,189.76 498.3,190.57 498.8,189.78 499.3,189.30 499.8,190.11 500.3,189.50 500.8,189.63 501.3,190.01 501.8,189.74 502.3,190.12 502.8,188.96 503.3,188.43 503.8,190.00 504.3,190.35 504.8,190.22 505.3,189.92 505.8,190.11 506.3,190.41 506.8,189.71 507.3,190.26 507.8,189.95 508.3,191.31 508.8,190.84 509.3,190.62 509.8,191.02 510.3,191.11 510.8,191.13 511.3,190.35 511.8,190.57 512.3,191.07 512.8,190.84 513.3,190.72 513.8,190.36 514.3,190.66 514.8,191.37 515.3,190.21 515.8,189.81 516.3,189.87 516.8,189.72 517.3,191.12 517.8,191.80 518.3,191.18 518.8,190.80 519.3,191.42 519.8,191.42 520.3,189.69 520.8,190.40 521.3,191.98 521.8,190.86 522.3,190.34 522.8,190.36 523.3,191.50 523.8,190.76 524.3,190.95 524.8,191.47 525.3,191.05 525.8,190.85 526.3,190.30 526.8,190.07 527.3,191.23 527.8,190.32 528.3,191.24 528.8,191.64 529.3,191.80 529.8,190.98 530.3,190.43 530.8,190.83 531.3,191.57 531.8,191.35 532.3,191.22 532.8,190.91 533.3,191.37 533.8,190.04 534.3,190.08 534.8,191.58 535.3,191.37"/>
<polyline fill="none" stroke="#0e0e84" stroke-width="1.60" stroke-linejoin="round" points="21.3,268.37 21.8,268.93 22.3,267.86 22.8,268.50 23.3,268.01 23.8,267.75 24.3,268.73 24.8,268.01 25.3,267.57 25.8,267.79 26.3,267.94 26.8,267.31 27.3,267.34 27.8,266.59 28.3,266.61 28.8,266.59 29.3,266.16 29.8,265.99 30.3,265.96 30.8,266.64 31.3,266.93 31.8,266.99 32.3,267.28 32.8,266.80 33.3,267.37 33.8,267.81 34.3,268.24 34.8,267.63 35.3,267.76 35.8,267.09 36.3,267.75 36.8,267.14 37.3,267.39 37.8,268.89 38.3,267.52 38.8,268.74 39.3,268.93 39.8,268.55 40.3,268.92 40.8,269.08 41.3,269.40 41.8,268.79 42.3,268.43 42.8,268.40 43.3,268.23 43.8,268.74 44.3,268.52 44.8,269.50 45.3,268.21 45.8,268.31 46.3,268.58 46.8,268.06 47.3,270.20 47.8,268.46 48.3,269.14 48.8,269.40 49.3,270.68 49.8,269.07 50.3,270.36 50.8,269.88 51.3,270.05 51.8,269.94 52.3,270.69 52.8,269.97 53.3,270.39 53.8,270.84 54.3,271.79 54.8,269.70 55.3,271.34 55.8,271.60 56.3,270.75 56.8,271.00 57.3,270.68 57.8,271.75 58.3,271.25 58.8,270.82 59.3,270.76 59.8,270.78 60.3,270.80 60.8,270.42 61.3,271.96 61.8,270.18 62.3,268.70 62.8,270.41 63.3,270.89 63.8,271.19 64.3,270.95 64.8,270.91 65.3,271.20 65.8,271.63 66.3,270.95 66.8,270.80 67.3,272.11 67.8,271.66 68.3,270.63 68.8,272.26 69.3,271.87 69.8,270.91 70.3,270.41 70.8,271.15 71.3,270.73 71.8,270.45 72.3,270.29 72.8,270.70 73.3,271.70 73.8,271.07 74.3,270.29 74.8,271.31 75.3,271.26 75.8,271.59 76.3,271.87 76.8,271.15 77.3,270.94 77.8,270.97 78.3,270.36 78.8,271.17 79.3,271.77 79.8,271.17 80.3,270.74 80.8,270.64 81.3,270.31 81.8,270.19 82.3,270.37 82.8,270.15 83.3,270.28 83.8,269.68 84.3,270.54 84.8,270.60 85.3,269.88 85.8,269.07 86.3,270.13 86.8,271.01 87.3,270.14 87.8,270.00 88.3,269.94 88.8,270.53 89.3,269.79 89.8,270.52 90.3,270.00 90.8,270.37 91.3,269.95 91.8,269.56 92.3,268.74 92.8,268.80 93.3,268.87 93.8,269.07 94.3,268.61 94.8,267.66 95.3,267.43 95.8,266.99 96.3,265.72 96.8,264.48 97.3,263.29 97.8,262.21 98.3,260.91 98.8,259.51 99.3,258.88 99.8,258.53 100.3,258.76 100.8,259.87 101.3,260.94 101.8,261.82 102.3,263.00 102.8,264.16 103.3,264.68 103.8,265.44 104.3,266.33 104.8,265.76 105.3,266.71 105.8,267.34 106.3,267.42 106.8,266.59 107.3,267.22 107.8,266.87 108.3,267.44 108.8,267.63 109.3,267.42 109.8,266.87 110.3,266.80 110.8,267.48 111.3,266.73 111.8,267.10 112.3,267.14 112.8,266.58 113.3,267.38 113.8,266.22 114.3,266.10 114.8,263.92 115.3,262.37 115.8,261.41 116.3,259.39 116.8,256.70 117.3,253.96 117.8,251.01 118.3,249.08 118.8,248.12 119.3,248.68 119.8,250.48 120.3,252.71 120.8,255.37 121.3,257.82 121.8,260.21 122.3,262.36 122.8,263.96 123.3,265.72 123.8,266.10 124.3,267.76 124.8,267.36 125.3,268.38 125.8,268.05 126.3,269.23 126.8,268.97 127.3,269.06 127.8,269.40 128.3,268.84 128.8,268.54 129.3,268.04 129.8,269.65 130.3,269.12 130.8,268.98 131.3,269.35 131.8,270.55 132.3,268.92 132.8,269.55 133.3,269.55 133.8,270.04 134.3,269.01 134.8,269.54 135.3,270.48 135.8,271.12 136.3,271.33 136.8,270.11 137.3,270.36 137.8,270.48 138.3,269.85 138.8,269.73 139.3,270.98 139.8,271.06 140.3,270.84 140.8,271.58 141.3,270.61 141.8,271.17 142.3,271.12 142.8,271.02 143.3,271.31 143.8,271.22 144.3,271.22 144.8,271.24 145.3,272.15 145.8,271.17 146.3,271.58 146.8,271.55 147.3,270.99 147.8,271.49 148.3,270.76 148.8,271.63 149.3,270.86 149.8,270.77 150.3,271.26 150.8,271.66 151.3,271.77 151.8,271.79 152.3,271.20 152.8,270.66 153.3,271.38 153.8,271.45 154.3,270.75 154.8,271.61 155.3,271.46 155.8,270.75 156.3,271.33 156.8,270.58 157.3,270.58 157.8,271.29 158.3,270.43 158.8,270.98 159.3,270.45 159.8,271.32 160.3,270.81 160.8,271.05 161.3,270.27 161.8,270.59 162.3,271.33 162.8,271.17 163.3,269.91 163.8,270.88 164.3,271.10 164.8,270.37 165.3,270.93 165.8,269.84 166.3,269.83 166.8,270.27 167.3,270.25 167.8,269.97 168.3,268.70 168.8,267.86 169.3,268.16 169.8,267.24 170.3,266.86 170.8,265.88 171.3,265.26 171.8,263.93 172.3,261.98 172.8,259.23 173.3,255.51 173.8,250.34 174.3,243.56 174.8,234.76 175.3,224.38 175.8,213.74 176.3,206.69 176.8,205.52 177.3,209.83 177.8,217.26 178.3,225.47 178.8,233.56 179.3,241.33 179.8,247.25 180.3,252.13 180.8,255.89 181.3,258.87 181.8,260.90 182.3,262.74 182.8,264.04 183.3,265.14 183.8,265.44 184.3,266.74 184.8,267.37 185.3,267.14 185.8,267.68 186.3,268.37 186.8,268.96 187.3,269.03 187.8,269.77 188.3,269.55 188.8,269.13 189.3,269.31 189.8,270.12 190.3,269.79 190.8,270.42 191.3,270.78 191.8,270.69 192.3,270.93 192.8,270.48 193.3,270.49 193.8,270.28 194.3,270.25 194.8,269.82 195.3,270.25 195.8,270.16 196.3,269.95 196.8,270.75 197.3,271.14 197.8,270.81 198.3,271.62 198.8,271.65 199.3,271.68 199.8,270.86 200.3,270.21 200.8,271.19 201.3,271.35 201.8,271.56 202.3,271.48 202.8,271.91 203.3,271.22 203.8,271.55 204.3,270.86 204.8,269.92 205.3,270.75 205.8,272.05 206.3,270.63 206.8,271.67 207.3,271.14 207.8,271.08 208.3,271.37 208.8,271.53 209.3,270.93 209.8,271.38 210.3,271.71 210.8,271.98 211.3,271.18 211.8,272.22 212.3,272.73 212.8,273.06 213.3,271.10 213.8,271.42 214.3,270.52 214.8,271.46 215.3,271.87 215.8,270.96 216.3,270.49 216.8,271.40 217.3,271.88 217.8,271.16 218.3,271.26 218.8,270.09 219.3,270.77 219.8,271.49 220.3,271.60 220.8,272.38 221.3,271.08 221.8,270.10 222.3,271.42 222.8,271.22 223.3,271.55 223.8,271.90 224.3,271.89 224.8,272.33 225.3,272.39 225.8,270.72 226.3,271.18 226.8,272.53 227.3,271.49 227.8,271.91 228.3,271.53 228.8,271.19 229.3,272.23 229.8,272.21 230.3,271.43 230.8,271.88 231.3,270.82 231.8,270.83 232.3,271.81 232.8,271.56 233.3,270.83 233.8,271.52 234.3,271.66 234.8,272.17 235.3,272.13 235.8,271.41 236.3,271.13 236.8,271.30 237.3,271.30 237.8,272.22 238.3,272.53 238.8,272.43 239.3,271.87 239.8,271.40 240.3,271.95 240.8,271.43 241.3,271.59 241.8,270.63 242.3,271.06 242.8,272.26 243.3,271.18 243.8,270.59 244.3,271.26 244.8,272.46 245.3,272.60 245.8,271.58 246.3,271.28 246.8,271.47 247.3,271.07 247.8,271.50 248.3,271.45 248.8,270.76 249.3,271.10 249.8,271.40 250.3,271.11 250.8,270.89 251.3,271.95 251.8,272.77 252.3,271.71 252.8,271.33 253.3,271.81 253.8,271.53 254.3,271.12 254.8,272.21 255.3,271.18 255.8,271.00 256.3,271.07 256.8,270.94 257.3,271.25 257.8,271.75 258.3,272.30 258.8,271.98 259.3,271.52 259.8,270.73 260.3,271.16 260.8,270.82 261.3,271.12 261.8,271.75 262.3,271.44 262.8,271.08 263.3,270.69 263.8,270.93 264.3,271.02 264.8,270.43 265.3,270.41 265.8,271.03 266.3,269.84 266.8,269.96 267.3,269.59 267.8,270.50 268.3,270.09 268.8,269.57 269.3,269.05 269.8,268.37 270.3,267.51 270.8,265.83 271.3,264.31 271.8,261.74 272.3,257.43 272.8,252.20 273.3,245.18 273.8,236.78 274.3,229.81 274.8,226.93 275.3,229.57 275.8,236.24 276.3,243.63 276.8,250.70 277.3,256.43 277.8,260.71 278.3,263.58 278.8,265.53 279.3,267.14 279.8,267.32 280.3,268.79 280.8,269.10 281.3,268.99 281.8,269.55 282.3,269.26 282.8,269.20 283.3,270.15 283.8,270.28 284.3,271.09 284.8,270.60 285.3,270.29 285.8,270.49 286.3,271.97 286.8,271.52 287.3,271.03 287.8,270.81 288.3,270.75 288.8,271.26 289.3,271.73 289.8,272.23 290.3,272.36 290.8,271.92 291.3,271.34 291.8,271.13 292.3,270.35 292.8,270.87 293.3,271.82 293.8,271.62 294.3,271.91 294.8,271.10 295.3,272.09 295.8,272.07 296.3,271.86 296.8,272.03 297.3,270.66 297.8,271.22 298.3,271.26 298.8,272.68 299.3,271.97 299.8,271.52 300.3,272.21 300.8,271.36 301.3,272.43 301.8,271.62 302.3,271.67 302.8,271.28 303.3,272.09 303.8,270.70 304.3,271.83 304.8,271.38 305.3,271.63 305.8,271.08 306.3,271.63 306.8,271.76 307.3,271.94 307.8,271.80 308.3,271.88 308.8,272.06 309.3,271.31 309.8,270.64 310.3,270.38 310.8,271.20 311.3,270.72 311.8,270.99 312.3,270.33 312.8,269.31 313.3,269.42 313.8,269.29 314.3,267.83 314.8,266.58 315.3,265.68 315.8,265.13 316.3,264.19 316.8,263.61 317.3,263.60 317.8,263.93 318.3,264.97 318.8,266.15 319.3,267.33 319.8,268.67 320.3,269.59 320.8,270.39 321.3,270.33 321.8,270.86 322.3,271.16 322.8,271.06 323.3,271.27 323.8,271.54 324.3,271.13 324.8,270.87 325.3,270.16 325.8,270.38 326.3,269.90 326.8,269.12 327.3,268.03 327.8,267.31 328.3,266.45 328.8,264.60 329.3,263.14 329.8,262.45 330.3,262.38 330.8,263.33 331.3,264.57 331.8,265.95 332.3,267.50 332.8,268.68 333.3,269.40 333.8,269.66 334.3,270.48 334.8,270.21 335.3,271.16 335.8,270.94 336.3,271.06 336.8,271.57 337.3,271.60 337.8,270.63 338.3,270.96 338.8,271.44 339.3,270.77 339.8,269.88 340.3,270.95 340.8,271.27 341.3,271.52 341.8,271.39 342.3,271.34 342.8,271.37 343.3,271.91 343.8,271.47 344.3,271.18 344.8,270.43 345.3,270.64 345.8,269.79 346.3,269.73 346.8,268.63 347.3,269.65 347.8,270.13 348.3,270.24 348.8,271.29 349.3,271.19 349.8,270.84 350.3,270.57 350.8,271.68 351.3,271.33 351.8,271.02 352.3,270.17 352.8,270.81 353.3,270.48 353.8,269.77 354.3,269.46 354.8,268.53 355.3,268.96 355.8,268.14 356.3,268.27 356.8,267.58 357.3,267.00 357.8,266.88 358.3,266.54 358.8,265.88 359.3,265.84 359.8,265.95 360.3,265.79 360.8,265.61 361.3,266.02 361.8,266.19 362.3,266.59 362.8,267.18 363.3,267.59 363.8,267.91 364.3,267.73 364.8,268.67 365.3,268.93 365.8,269.02 366.3,269.40 366.8,270.32 367.3,269.12 367.8,268.56 368.3,269.34 368.8,268.67 369.3,268.97 369.8,267.92 370.3,267.53 370.8,267.77 371.3,267.88 371.8,267.95 372.3,268.33 372.8,268.61 373.3,268.93 373.8,269.46 374.3,270.55 374.8,270.80 375.3,270.67 375.8,270.93 376.3,271.38 376.8,271.75 377.3,271.19 377.8,271.11 378.3,271.38 378.8,272.69 379.3,271.77 379.8,272.03 380.3,270.69 380.8,271.61 381.3,270.74 381.8,270.62 382.3,270.92 382.8,271.26 383.3,271.51 383.8,271.67 384.3,271.62 384.8,271.25 385.3,272.81 385.8,272.03 386.3,271.89 386.8,272.67 387.3,272.28 387.8,271.93 388.3,271.74 388.8,272.55 389.3,271.15 389.8,270.81 390.3,271.43 390.8,270.39 391.3,270.78 391.8,272.00 392.3,271.39 392.8,271.51 393.3,271.88 393.8,270.94 394.3,271.47 394.8,271.17 395.3,270.79 395.8,271.18 396.3,271.41 396.8,271.25 397.3,271.06 397.8,271.90 398.3,272.23 398.8,271.93 399.3,271.49 399.8,270.88 400.3,270.87 400.8,270.75 401.3,271.43 401.8,271.99 402.3,272.09 402.8,271.57 403.3,271.25 403.8,271.50 404.3,271.55 404.8,271.80 405.3,272.34 405.8,271.28 406.3,272.50 406.8,270.58 407.3,270.18 407.8,270.37 408.3,270.67 408.8,271.16 409.3,272.52 409.8,271.32 410.3,271.92 410.8,271.36 411.3,271.43 411.8,270.85 412.3,272.47 412.8,271.65 413.3,271.01 413.8,272.48 414.3,271.72 414.8,271.53 415.3,271.23 415.8,270.74 416.3,270.28 416.8,270.80 417.3,271.82 417.8,271.33 418.3,270.74 418.8,271.15 419.3,270.16 419.8,270.89 420.3,270.35 420.8,269.68 421.3,270.23 421.8,270.33 422.3,269.96 422.8,270.24 423.3,270.81 423.8,271.26 424.3,270.32 424.8,269.24 425.3,271.50 425.8,270.99 426.3,270.67 426.8,271.13 427.3,270.81 427.8,271.47 428.3,270.44 428.8,270.65 429.3,270.18 429.8,271.40 430.3,270.74 430.8,271.05 431.3,271.19 431.8,269.78 432.3,269.74 432.8,270.09 433.3,269.71 433.8,269.41 434.3,269.76 434.8,269.92 435.3,269.37 435.8,269.57 436.3,270.17 436.8,270.26 437.3,270.37 437.8,269.90 438.3,271.33 438.8,270.80 439.3,270.90 439.8,270.88 440.3,270.95 440.8,271.05 441.3,270.57 441.8,271.10 442.3,271.72 442.8,271.41 443.3,271.48 443.8,271.40 444.3,271.13 444.8,272.02 445.3,270.92 445.8,271.15 446.3,271.64 446.8,271.32 447.3,270.50 447.8,270.29 448.3,271.69 448.8,270.69 449.3,270.86 449.8,271.26 450.3,271.08 450.8,270.01 451.3,269.68 451.8,270.60 452.3,270.46 452.8,270.62 453.3,270.85 453.8,270.90 454.3,270.10 454.8,269.69 455.3,270.96 455.8,270.44 456.3,269.91 456.8,269.36 457.3,270.45 457.8,269.78 458.3,269.55 458.8,270.25 459.3,270.13 459.8,270.01 460.3,268.97 460.8,267.82 461.3,268.16 461.8,268.30 462.3,267.84 462.8,267.92 463.3,267.38 463.8,266.40 464.3,266.21 464.8,265.61 465.3,264.98 465.8,264.77 466.3,263.95 466.8,263.96 467.3,263.88 467.8,263.26 468.3,263.47 468.8,263.67 469.3,263.68 469.8,263.93 470.3,264.10 470.8,264.39 471.3,264.41 471.8,264.14 472.3,264.59 472.8,264.59 473.3,264.16 473.8,264.25 474.3,264.42 474.8,263.78 475.3,263.73 475.8,263.64 476.3,263.65 476.8,263.31 477.3,262.80 477.8,262.86 478.3,262.35 478.8,262.11 479.3,262.13 479.8,261.50 480.3,261.38 480.8,261.72 481.3,261.86 481.8,262.33 482.3,262.78 482.8,263.84 483.3,264.24 483.8,264.77 484.3,265.40 484.8,266.10 485.3,266.18 485.8,266.98 486.3,267.92 486.8,267.79 487.3,268.49 487.8,268.91 488.3,269.04 488.8,270.60 489.3,270.40 489.8,270.24 490.3,269.85 490.8,270.28 491.3,270.33 491.8,270.49 492.3,270.77 492.8,272.05 493.3,271.83 493.8,271.94 494.3,271.88 494.8,272.64 495.3,271.07 495.8,270.32 496.3,271.06 496.8,271.32 497.3,271.24 497.8,270.89 498.3,271.53 498.8,272.29 499.3,271.65 499.8,271.23 500.3,271.96 500.8,271.36 501.3,271.15 501.8,271.53 502.3,270.23 502.8,272.15 503.3,271.65 503.8,271.73 504.3,271.72 504.8,271.76 505.3,270.83 505.8,272.30 506.3,272.08 506.8,271.78 507.3,273.31 507.8,271.29 508.3,271.80 508.8,271.62 509.3,270.75 509.8,272.45 510.3,271.01 510.8,271.47 511.3,271.58 511.8,271.71 512.3,271.13 512.8,272.25 513.3,271.96 513.8,270.97 514.3,270.80 514.8,271.63 515.3,271.05 515.8,271.74 516.3,271.91 516.8,271.40 517.3,270.54 517.8,270.71 518.3,271.73 518.8,271.48 519.3,272.69 519.8,271.76 520.3,271.91 520.8,272.20 521.3,271.93 521.8,271.99 522.3,272.42 522.8,271.89 523.3,272.02 523.8,271.71 524.3,272.94 524.8,272.27 525.3,272.40 525.8,270.39 526.3,271.26 526.8,271.27 527.3,271.84 527.8,271.75 528.3,271.36 528.8,271.72 529.3,272.44 529.8,272.75 530.3,271.91 530.8,272.58 531.3,271.88 531.8,272.34 532.3,271.70 532.8,272.57 533.3,273.55 533.8,272.28 534.3,272.76 534.8,271.49 535.3,271.58"/>
<polyline fill="none" stroke="#000000" stroke-width="1.80" stroke-linejoin="round" points="21.3,352.91 22.1,353.35 22.8,352.49 23.6,353.07 24.3,353.84 25.1,353.43 25.8,354.45 26.6,352.18 27.3,352.50 28.1,351.92 28.8,351.61 29.6,352.19 30.3,352.75 31.1,353.06 31.8,353.20 32.5,355.02 33.3,354.06 34.0,351.18 34.8,352.44 35.5,352.08 36.3,352.01 37.0,353.96 37.8,352.89 38.5,350.75 39.3,352.69 40.0,352.70 40.8,351.68 41.5,351.77 42.3,352.19 43.0,352.94 43.8,352.72 44.5,353.18 45.3,355.18 46.0,352.96 46.8,352.31 47.5,352.92 48.3,354.49 49.0,353.01 49.8,354.78 50.5,352.52 51.3,352.12 52.0,353.21 52.8,352.63 53.5,352.67 54.3,353.84 55.0,354.40 55.8,353.84 56.5,353.29 57.3,354.86 58.0,354.31 58.8,353.42 59.5,354.76 60.3,352.95 61.0,353.52 61.8,354.31 62.5,353.75 63.3,353.01 64.0,353.82 64.8,353.15 65.5,352.87 66.3,352.42 67.0,354.71 67.8,353.41 68.5,354.69 69.3,354.34 70.0,353.48 70.8,354.27 71.5,354.10 72.3,353.85 73.0,352.27 73.8,353.36 74.5,354.56 75.3,354.31 76.0,354.66 76.8,355.21 77.5,354.14 78.3,355.34 79.0,352.06 79.8,352.34 80.5,350.21 81.3,352.89 82.0,352.86 82.8,354.15 83.5,352.36 84.3,350.07 85.0,352.85 85.8,350.98 86.5,350.34 87.3,351.38 88.0,352.37 88.8,351.37 89.5,351.64 90.3,349.68 91.0,352.38 91.8,351.25 92.5,350.56 93.3,350.34 94.0,349.17 94.8,347.81 95.5,345.64 96.3,343.90 97.0,342.03 97.8,340.37 98.5,338.95 99.3,339.03 100.0,340.35 100.8,342.25 101.5,344.06 102.3,345.53 103.0,346.61 103.8,348.63 104.5,348.96 105.3,348.98 106.0,352.10 106.8,350.71 107.5,350.15 108.3,349.49 109.0,348.22 109.8,349.57 110.5,348.65 111.3,347.90 112.0,347.60 112.8,346.17 113.5,343.70 114.3,340.85 115.0,338.20 115.8,334.22 116.5,329.98 117.3,327.53 118.0,326.14 118.8,326.73 119.5,329.39 120.3,332.84 121.0,337.18 121.8,340.35 122.5,343.27 123.3,346.08 124.0,347.12 124.8,349.21 125.5,349.54 126.3,350.97 127.0,349.86 127.8,350.83 128.6,349.47 129.3,350.25 130.1,351.10 130.8,351.80 131.6,353.46 132.3,353.80 133.1,350.78 133.8,350.66 134.6,352.85 135.3,352.62 136.1,350.70 136.8,352.14 137.6,351.05 138.3,350.96 139.1,350.67 139.8,351.60 140.6,354.38 141.3,353.16 142.1,352.22 142.8,354.74 143.6,352.41 144.3,351.96 145.1,351.90 145.8,352.51 146.6,351.89 147.3,353.41 148.1,352.02 148.8,352.35 149.6,352.13 150.3,350.86 151.1,350.36 151.8,351.14 152.6,349.02 153.3,350.64 154.1,351.15 154.8,351.10 155.6,350.76 156.3,351.00 157.1,350.29 157.8,350.95 158.6,348.85 159.3,350.63 160.1,349.39 160.8,350.12 161.6,349.41 162.3,349.09 163.1,348.61 163.8,350.30 164.6,348.42 165.3,347.55 166.1,348.37 166.8,348.11 167.6,346.93 168.3,344.60 169.1,341.55 169.8,336.92 170.6,328.75 171.3,318.94 172.1,307.37 172.8,296.01 173.6,288.09 174.3,288.22 175.1,294.25 175.8,304.88 176.6,316.58 177.3,326.99 178.1,335.40 178.8,341.28 179.6,344.47 180.3,346.85 181.1,348.90 181.8,349.28 182.6,349.15 183.3,350.34 184.1,350.73 184.8,350.89 185.6,349.48 186.3,348.26 187.1,350.59 187.8,350.61 188.6,350.11 189.3,350.91 190.1,350.27 190.8,349.94 191.6,352.34 192.3,349.64 193.1,351.25 193.8,352.07 194.6,352.91 195.3,351.61 196.1,351.52 196.8,350.18 197.6,350.80 198.3,348.91 199.1,349.93 199.8,350.88 200.6,350.95 201.3,350.57 202.1,352.17 202.8,349.84 203.6,350.93 204.3,350.88 205.1,351.24 205.8,351.42 206.6,353.40 207.3,350.87 208.1,352.60 208.8,353.32 209.6,351.81 210.3,350.96 211.1,350.22 211.8,350.46 212.6,353.52 213.3,349.98 214.1,351.59 214.8,351.11 215.6,353.48 216.3,352.56 217.1,350.49 217.8,350.95 218.6,351.92 219.3,352.07 220.1,351.00 220.8,351.45 221.6,351.48 222.3,352.44 223.1,352.52 223.8,352.45 224.6,351.65 225.3,352.89 226.1,351.90 226.8,351.32 227.6,351.69 228.3,351.94 229.1,352.01 229.8,350.38 230.6,353.34 231.3,353.45 232.1,353.98 232.8,352.41 233.6,353.14 234.3,352.87 235.1,352.55 235.8,354.31 236.6,352.32 237.3,352.90 238.1,350.84 238.8,352.59 239.6,352.42 240.3,351.37 241.1,351.58 241.8,350.13 242.6,350.82 243.3,352.34 244.1,349.79 244.8,352.86 245.6,353.69 246.3,351.90 247.1,350.71 247.8,350.61 248.6,350.74 249.3,351.30 250.1,354.39 250.8,351.78 251.6,352.83 252.3,353.79 253.1,351.69 253.8,351.81 254.6,352.91 255.3,351.80 256.1,353.35 256.8,354.70 257.6,352.70 258.3,351.35 259.1,352.53 259.8,352.59 260.6,351.41 261.3,351.69 262.1,352.01 262.8,352.40 263.6,353.04 264.3,351.55 265.1,350.29 265.8,349.70 266.6,352.72 267.3,351.28 268.1,350.58 268.8,352.83 269.6,351.93 270.3,352.03 271.1,349.69 271.8,347.88 272.6,346.33 273.3,344.18 274.1,340.29 274.8,334.90 275.6,328.88 276.3,321.77 277.1,315.39 277.8,313.90 278.6,317.02 279.3,322.75 280.1,330.58 280.8,336.68 281.6,341.72 282.3,344.66 283.1,346.42 283.8,348.83 284.6,349.35 285.3,349.44 286.1,350.14 286.8,350.77 287.6,350.99 288.3,350.83 289.1,351.51 289.8,354.07 290.6,353.13 291.3,351.21 292.1,353.33 292.8,351.56 293.6,349.95 294.3,349.88 295.1,349.29 295.8,352.30 296.6,350.87 297.3,350.00 298.1,350.78 298.8,351.36 299.6,350.40 300.3,350.81 301.1,351.55 301.8,352.35 302.6,350.90 303.3,352.01 304.1,352.08 304.8,352.30 305.6,351.27 306.3,350.36 307.1,352.34 307.8,352.48 308.6,351.11 309.3,350.66 310.1,352.08 310.8,353.74 311.6,352.37 312.3,354.01 313.1,352.24 313.8,351.54 314.6,351.37 315.3,351.40 316.1,348.63 316.8,348.36 317.6,348.04 318.3,345.59 319.1,345.27 319.8,345.81 320.6,347.33 321.3,348.85 322.1,349.10 322.8,351.52 323.6,349.90 324.3,349.31 325.1,352.07 325.8,352.24 326.6,350.37 327.3,352.19 328.1,352.56 328.8,352.39 329.6,351.20 330.3,350.07 331.1,349.45 331.8,350.83 332.6,351.25 333.3,350.90 334.1,350.74 334.8,352.20 335.6,350.48 336.3,350.33 337.1,353.10 337.8,351.11 338.6,350.39 339.3,351.95 340.1,349.46 340.8,351.77 341.6,349.50 342.3,348.33 343.1,346.25 343.8,342.58 344.6,336.40 345.3,329.26 346.1,322.97 346.8,322.68 347.6,327.90 348.3,334.89 349.1,341.89 349.8,346.21 350.6,348.57 351.3,350.16 352.1,351.03 352.8,351.42 353.6,349.12 354.3,350.52 355.1,350.78 355.8,353.07 356.6,351.61 357.3,351.33 358.1,351.46 358.8,352.28 359.6,350.54 360.3,351.10 361.1,351.37 361.8,351.49 362.6,351.28 363.3,350.92 364.1,351.48 364.8,350.19 365.6,352.78 366.3,351.79 367.1,349.43 367.8,350.21 368.6,351.26 369.3,349.92 370.1,349.18 370.8,347.41 371.6,350.33 372.3,350.56 373.1,348.92 373.8,350.24 374.6,352.73 375.3,352.25 376.1,350.13 376.8,350.64 377.6,351.73 378.3,353.84 379.1,352.44 379.8,352.49 380.6,351.53 381.3,351.65 382.1,350.66 382.8,350.07 383.6,349.94 384.3,350.74 385.1,352.85 385.8,351.99 386.6,352.93 387.3,352.81 388.1,352.06 388.8,351.21 389.6,353.80 390.3,353.43 391.1,353.27 391.8,354.60 392.6,353.90 393.3,352.30 394.1,352.12 394.8,352.34 395.6,354.14 396.3,351.17 397.1,349.48 397.8,350.66 398.6,351.51 399.3,351.01 400.1,352.43 400.8,352.48 401.6,351.73 402.3,351.66 403.1,353.60 403.8,354.17 404.6,353.92 405.3,351.64 406.1,352.76 406.8,350.69 407.6,349.35 408.3,352.86 409.1,352.92 409.8,352.49 410.6,353.21 411.3,353.66 412.1,352.28 412.8,351.91 413.6,352.25 414.3,352.59 415.1,351.95 415.8,350.17 416.6,353.74 417.3,351.35 418.1,350.64 418.8,351.89 419.6,351.50 420.3,351.91 421.1,353.97 421.8,353.40 422.6,351.15 423.3,351.43 424.1,351.20 424.8,352.41 425.6,350.48 426.3,349.80 427.1,348.98 427.8,350.95 428.6,351.29 429.3,351.47 430.1,351.53 430.8,349.40 431.6,349.56 432.3,348.95 433.1,350.82 433.8,350.93 434.6,348.69 435.3,350.03 436.1,350.19 436.8,350.22 437.6,350.92 438.3,349.91 439.1,349.99 439.8,349.79 440.6,349.76 441.3,349.42 442.1,351.59 442.8,351.59 443.6,350.59 444.3,348.93 445.1,352.59 445.8,351.28 446.6,350.87 447.3,351.36 448.1,352.55 448.8,350.73 449.6,348.07 450.3,349.63 451.1,350.45 451.8,349.93 452.6,351.87 453.3,350.41 454.1,350.69 454.8,349.71 455.6,351.03 456.3,349.93 457.1,351.10 457.8,350.77 458.6,350.61 459.3,350.75 460.1,348.82 460.8,349.47 461.6,350.40 462.3,349.90 463.1,351.21 463.8,351.13 464.6,349.30 465.3,350.40 466.1,349.18 466.8,349.02 467.6,349.05 468.3,346.76 469.1,345.80 469.8,345.46 470.6,344.65 471.3,343.40 472.1,343.45 472.8,343.16 473.6,343.09 474.3,343.20 475.1,343.47 475.8,343.22 476.6,343.71 477.3,343.86 478.1,344.12 478.8,344.32 479.6,345.57 480.3,344.51 481.1,345.32 481.8,346.71 482.6,346.75 483.3,346.80 484.1,348.27 484.8,347.56 485.6,348.05 486.3,349.03 487.1,348.75 487.8,348.85 488.6,349.61 489.3,350.77 490.1,349.51 490.8,350.60 491.6,350.55 492.3,350.30 493.1,349.42 493.8,352.23 494.6,351.93 495.3,351.43 496.1,350.87 496.8,352.71 497.6,351.02 498.3,350.18 499.1,350.39 499.8,351.26 500.6,351.89 501.3,349.71 502.1,351.49 502.8,352.09 503.6,352.93 504.3,351.73 505.1,353.23 505.8,354.26 506.6,351.83 507.3,351.50 508.1,352.89 508.8,353.47 509.6,352.34 510.3,353.24 511.1,350.80 511.8,352.70 512.5,352.86 513.3,353.21 514.0,352.92 514.8,353.01 515.5,351.91 516.3,353.51 517.0,350.43 517.8,351.94 518.5,351.63 519.3,354.06 520.0,351.55 520.8,352.06 521.5,352.23 522.3,353.05 523.0,352.44 523.8,351.13 524.5,351.82 525.3,353.41 526.0,353.33 526.8,351.70 527.5,350.77 528.3,350.60 529.0,351.81 529.8,352.06 530.5,351.84 531.3,351.63 532.0,352.32 532.8,353.67 533.5,353.64 534.3,352.08 535.0,352.97"/>
<line x1="346.5" y1="246.3" x2="346.5" y2="255" stroke="#8a8a8a" stroke-width="0.9"/>
<polygon points="344.0,254.6 349.0,254.6 346.5,264.2" fill="#8a8a8a"/>
<text class="sm" x="25.5" y="76.5" fill="#0a800f" stroke="#0a800f">331</text>
<text class="sm" x="92.7" y="83.6" fill="#0a800f" stroke="#0a800f">526</text>
<text class="sm" x="112.9" y="83.6" fill="#0a800f" stroke="#0a800f">586</text>
<text class="sm" x="171.9" y="39.6" fill="#0a800f" stroke="#0a800f">758</text>
<text class="sm" x="266.6" y="39.6" fill="#0a800f" stroke="#0a800f">1039</text>
<text class="sm" x="307.9" y="83.6" fill="#0a800f" stroke="#0a800f">1159</text>
<text class="sm" x="349.1" y="76.5" fill="#0a800f" stroke="#0a800f">1279</text>
<text class="sm" x="366.9" y="98.6" fill="#0a800f" stroke="#0a800f">1332</text>
<text class="sm" x="426.9" y="98.6" fill="#0a800f" stroke="#0a800f">1506</text>
<text class="sm" x="459.0" y="83.6" fill="#0a800f" stroke="#0a800f">1600</text>
<text class="sm" x="26.1" y="150.1" fill="#1414bb" stroke="#1414bb">334</text>
<text class="sm" x="93.0" y="165.4" fill="#1414bb" stroke="#1414bb">528</text>
<text class="sm" x="112.4" y="165.1" fill="#1414bb" stroke="#1414bb">585</text>
<text class="sm" x="170.8" y="121.1" fill="#1414bb" stroke="#1414bb">755</text>
<text class="sm" x="266.6" y="135.5" fill="#1414bb" stroke="#1414bb">1039</text>
<text class="sm" x="309.0" y="172.0" fill="#1414bb" stroke="#1414bb">1162</text>
<text class="sm" x="321.8" y="157.6" fill="#1414bb" stroke="#1414bb">1200</text>
<text class="sm" x="351.5" y="172.0" fill="#1414bb" stroke="#1414bb">1286</text>
<text class="sm" x="363.7" y="157.6" fill="#1414bb" stroke="#1414bb">1321</text>
<text class="sm" x="412.5" y="179.0" fill="#1414bb" stroke="#1414bb">1464</text>
<text class="sm" x="426.9" y="164.7" fill="#1414bb" stroke="#1414bb">1506</text>
<text class="sm" x="459.7" y="172.0" fill="#1414bb" stroke="#1414bb">1602</text>
<text class="sm" x="471.5" y="157.6" fill="#1414bb" stroke="#1414bb">1636</text>
<text class="sm" x="26.1" y="230.8" fill="#141484" stroke="#141484">332</text>
<text class="sm" x="93.0" y="238.5" fill="#141484" stroke="#141484">528</text>
<text class="sm" x="112.4" y="238.5" fill="#141484" stroke="#141484">585</text>
<text class="sm" x="169.7" y="201.8" fill="#141484" stroke="#141484">753</text>
<text class="sm" x="266.6" y="216.2" fill="#141484" stroke="#141484">1039</text>
<text class="sm" x="309.6" y="252.7" fill="#141484" stroke="#141484">1164</text>
<text class="sm" x="322.3" y="230.8" fill="#141484" stroke="#141484">1201</text>
<text class="sm" x="338.6" y="238.5" fill="#141484" stroke="#141484">1249</text>
<text class="sm" x="351.9" y="252.7" fill="#141484" stroke="#141484">1288</text>
<text class="sm" x="363.0" y="238.5" fill="#141484" stroke="#141484">1319</text>
<text class="sm" x="412.9" y="260.4" fill="#141484" stroke="#141484">1466</text>
<text class="sm" x="426.9" y="245.8" fill="#141484" stroke="#141484">1506</text>
<text class="sm" x="460.7" y="252.7" fill="#141484" stroke="#141484">1605</text>
<text class="sm" x="472.1" y="238.5" fill="#141484" stroke="#141484">1637</text>
<text class="sm" x="93.0" y="327.1" fill="#111" stroke="#111">528</text>
<text class="sm" x="111.8" y="312.1" fill="#111" stroke="#111">583</text>
<text class="sm" x="168.2" y="282.9" fill="#111" stroke="#111">747</text>
<text class="sm" x="270.0" y="297.5" fill="#111" stroke="#111">1049</text>
<text class="sm" x="312.2" y="334.4" fill="#111" stroke="#111">1171</text>
<text class="sm" x="339.0" y="312.1" fill="#111" stroke="#111">1249</text>
<text class="sm" x="363.0" y="334.4" fill="#111" stroke="#111">1319</text>
<text class="sm" x="426.9" y="334.4" fill="#111" stroke="#111">1506</text>
<text class="sm" x="465.7" y="326.9" fill="#111" stroke="#111">1619</text>
<text class="bg" x="21.0" y="95.5" fill="#0a800f" textLength="13.8" lengthAdjust="spacingAndGlyphs">A</text>
<text class="bg" x="21.6" y="175.7" fill="#1414bb" textLength="12.0" lengthAdjust="spacingAndGlyphs">B</text>
<text class="bg" x="20.9" y="257.0" fill="#141484">C</text>
<text class="bg" x="20.7" y="345.6" fill="#111">D</text>
</svg>
</body></html>
